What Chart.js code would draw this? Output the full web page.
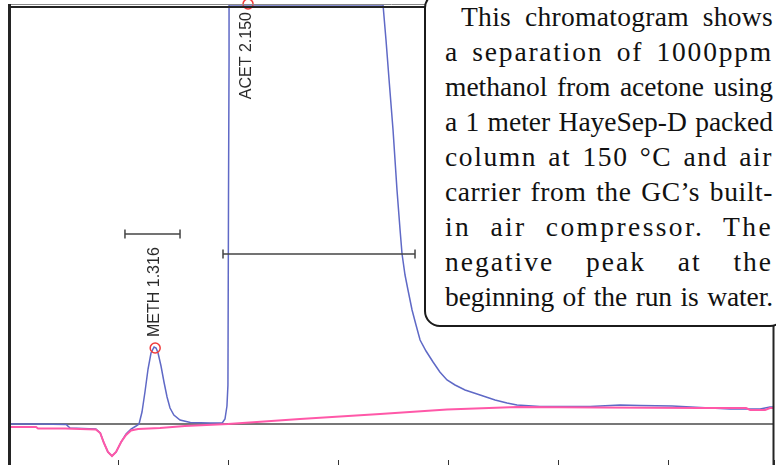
<!DOCTYPE html>
<html>
<head>
<meta charset="utf-8">
<script src="https://cdn.jsdelivr.net/npm/chart.js@4.4.1/dist/chart.umd.min.js"></script>
<style>
    body { margin: 0; background: #fff; overflow: hidden; }
    #wrap { position: relative; width: 776px; height: 465px; overflow: hidden; }
    #chrom { display: block; }
    #note {
        position: absolute; left: 424px; top: -8px;
        box-sizing: border-box; width: 362px; height: 335px;
        border: 2px solid #1b1b1b; border-radius: 16px;
        background: #fff;
        padding: 5px 11px 0 19px;
        font: 27.5px/35px "Liberation Serif", "Times New Roman", serif;
        color: #111;
    }
    #note div { text-align: justify; text-align-last: justify; height: 35px; }
</style>
</head>
<body>
<div id="wrap">
    <canvas id="chrom" width="776" height="465" style="width:776px;height:465px"></canvas>
    <div id="note">
        <div style="text-indent:16px;letter-spacing:0.3px">This chromatogram shows</div>
        <div style="letter-spacing:1.8px">a separation of 1000ppm</div>
        <div>methanol from acetone using</div>
        <div>a 1 meter HayeSep-D packed</div>
        <div style="letter-spacing:1.6px">column at 150 °C and air</div>
        <div style="letter-spacing:0.6px">carrier from the GC’s built-</div>
        <div style="letter-spacing:2.4px">in air compressor. The</div>
        <div style="letter-spacing:2px">negative peak at the</div>
        <div style="letter-spacing:-0.1px">beginning of the run is water.</div>
    </div>
</div>

<script>
// detector trace (time in min, signal in mV)
const traceTime = [0.009, 0.28, 0.52, 0.555, 0.79, 0.83, 0.864, 0.90, 0.937, 0.974,
    1.02, 1.065, 1.11, 1.156, 1.183, 1.21, 1.237, 1.265, 1.292, 1.32,
    1.338, 1.356, 1.383, 1.41, 1.438, 1.465, 1.50, 1.556, 1.65, 1.83,
    1.94, 1.965, 1.983, 1.992, 1.997, 2.002, 2.002, 3.403, 3.43, 3.458,
    3.494, 3.53, 3.558, 3.576, 3.603, 3.63, 3.667, 3.703, 3.74, 3.794,
    3.858, 3.92, 3.985, 4.058, 4.149, 4.286, 4.422, 4.531, 4.622, 4.83,
    5.287, 5.56, 5.741, 6.033, 6.288, 6.561, 6.834, 6.924, 6.961];
const traceSignal = [0, 0, -0.05, -0.4, -0.5, -0.9, -1.9, -2.8, -3.2, -2.8,
    -1.8, -1.0, -0.5, -0.2, 0, 1.2, 3.2, 5.5, 7.1, 7.7,
    7.6, 7.1, 5.8, 4.2, 2.7, 1.6, 0.9, 0.4, 0.15, 0.1,
    0.1, 0.5, 1.8, 3.9, 22.4, 36.4, 41.9, 41.9, 38.4, 34.4,
    29.4, 23.4, 19.4, 17.0, 14.9, 13.4, 11.4, 9.9, 8.4, 7.3,
    6.2, 5.2, 4.4, 3.9, 3.4, 2.9, 2.4, 2.1, 1.9, 1.75,
    1.75, 1.9, 1.85, 1.8, 1.65, 1.5, 1.5, 1.7, 1.7];

// integration baseline
const baseTime = [0.009, 0.246, 0.264, 0.51, 0.79, 0.83, 0.864, 0.90, 0.937, 0.974,
    1.02, 1.065, 1.11, 1.174, 1.374, 1.60, 1.993, 2.648, 3.376, 3.985,
    4.622, 5.378, 6.288, 6.706, 6.743, 6.879, 6.924, 6.961];
const baseSignal = [-0.3, -0.3, -0.45, -0.45, -0.55, -0.9, -1.9, -2.8, -3.2, -2.8,
    -1.8, -1.1, -0.65, -0.5, -0.4, -0.2, 0, 0.5, 1.0, 1.45,
    1.7, 1.65, 1.6, 1.6, 1.4, 1.4, 1.6, 1.6];

// identified peaks
const peakNames = ['METH 1.316', 'ACET 2.150'];
const peakTimes = [1.33, 2.175];
const peakHeights = [7.6, 42.0];

// peak width markers
const widthStart = [1.055, 1.947];
const widthEnd = [1.556, 3.694];
const widthLevel = [19.0, 17.0];

const timeMax = 6.96;

const toPoints = (xs, ys) => xs.map((x, i) => ({x: x, y: ys[i]}));

const peakLabels = {
    id: 'peakLabels',
    afterDatasetsDraw(chart) {
        const ctx = chart.ctx;
        const xs = chart.scales.x, ys = chart.scales.y;
        ctx.save();
        ctx.font = '16px "Liberation Sans", Arial, sans-serif';
        ctx.fillStyle = '#2a2a2a';
        ctx.textBaseline = 'middle';
        for (let i = 0; i < peakNames.length; i++) {
            const px = xs.getPixelForValue(peakTimes[i]) - 1;
            const py = ys.getPixelForValue(peakHeights[i]);
            const w = ctx.measureText(peakNames[i]).width;
            ctx.save();
            if (py - 11 - w > chart.chartArea.top) {
                ctx.translate(px, py - 11);
                ctx.textAlign = 'left';
            } else {
                ctx.translate(px, py + 8);
                ctx.textAlign = 'right';
            }
            ctx.rotate(-Math.PI / 2);
            ctx.fillText(peakNames[i], 0, 0);
            ctx.restore();
        }
        ctx.restore();
    }
};

const frameLines = {
    id: 'frameLines',
    afterDraw(chart) {
        const ctx = chart.ctx;
        const a = chart.chartArea;
        ctx.save();
        ctx.strokeStyle = '#8a8a8a';
        ctx.lineWidth = 1;
        ctx.beginPath();
        ctx.moveTo(a.left, a.top - 1.5);
        ctx.lineTo(a.right, a.top - 1.5);
        ctx.stroke();
        ctx.strokeStyle = '#242424';
        ctx.lineWidth = 2;
        ctx.beginPath();
        ctx.moveTo(a.left, a.top + 1);
        ctx.lineTo(a.right, a.top + 1);
        ctx.moveTo(a.right - 0.5, a.top);
        ctx.lineTo(a.right - 0.5, chart.height);
        ctx.stroke();
        ctx.lineWidth = 3;
        ctx.beginPath();
        ctx.moveTo(a.left + 0.5, a.top - 2);
        ctx.lineTo(a.left + 0.5, chart.height);
        ctx.stroke();
        ctx.restore();
    }
};

const widthSets = widthStart.map((s, i) => ({
    data: [{x: s, y: widthLevel[i]}, {x: widthEnd[i], y: widthLevel[i]}],
    borderColor: '#444',
    borderWidth: 1.5,
    pointStyle: 'line',
    rotation: 90,
    pointRadius: 4.5,
    pointBorderColor: '#444',
    pointBorderWidth: 1.5,
    order: 0
}));

new Chart(document.getElementById('chrom'), {
    type: 'line',
    data: {
        datasets: [{
            data: toPoints(peakTimes, peakHeights),
            showLine: false,
            pointRadius: 5,
            pointBorderWidth: 1.5,
            pointBorderColor: '#f03c3c',
            pointBackgroundColor: 'rgba(0,0,0,0)',
            clip: false,
            order: 0
        }, ...widthSets, {
            data: toPoints(baseTime, baseSignal),
            borderColor: '#ff58a8',
            borderWidth: 2,
            pointRadius: 0,
            order: 1
        }, {
            data: toPoints(traceTime, traceSignal),
            borderColor: '#5f69c6',
            borderWidth: 1.5,
            pointRadius: 0,
            clip: false,
            order: 2
        }, {
            data: [{x: 0, y: 0}, {x: timeMax, y: 0}],
            borderColor: '#777',
            borderWidth: 2,
            pointRadius: 0,
            order: 3
        }]
    },
    options: {
        responsive: false,
        animation: false,
        devicePixelRatio: 1,
        layout: {
            autoPadding: false,
            padding: {left: 9, right: 2, top: 6, bottom: 0}
        },
        plugins: {
            legend: { display: false },
            tooltip: { enabled: false }
        },
        scales: {
            x: {
                type: 'linear',
                min: 0,
                max: timeMax,
                ticks: { display: false, stepSize: 1 },
                grid: { drawOnChartArea: false, drawTicks: true, tickLength: 5, color: '#333' },
                border: { display: false }
            },
            y: {
                display: false,
                min: -3.6,
                max: 41.8
            }
        }
    },
    plugins: [peakLabels, frameLines]
});
</script>
</body>
</html>
